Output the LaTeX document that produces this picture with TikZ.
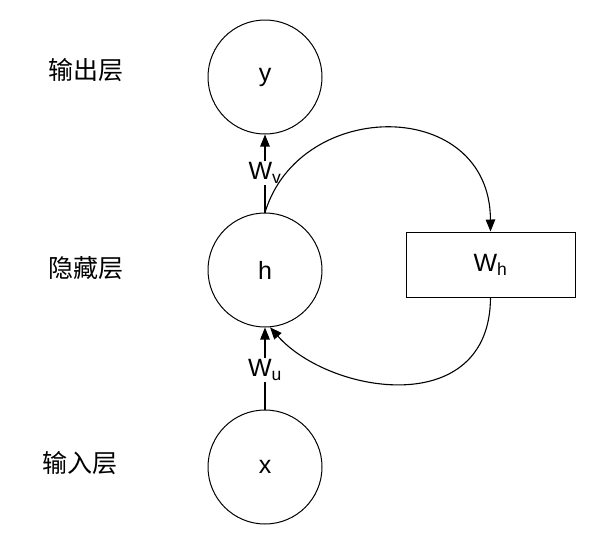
\documentclass[tikz,border=0pt]{standalone}
\usepackage{fontspec}
\setmainfont{Liberation Sans}
\newfontfamily\cjk{Noto Sans CJK SC}
\usetikzlibrary{arrows.meta}
\begin{document}
\begin{tikzpicture}[x=1pt,y=-1pt,
  neuron/.style={draw,circle,minimum size=114pt,inner sep=0pt,line width=1pt,font=\fontsize{25}{28}\selectfont},
  lbl/.style={font=\cjk\fontsize{25}{28}\selectfont},
  wl/.style={font=\fontsize{25}{28}\selectfont,inner sep=1pt},
  conn/.style={line width=1.1pt,-{Triangle[length=12pt,width=9.5pt]}},
  plain/.style={line width=1.1pt}]
\useasboundingbox (0,0) rectangle (605,544);
\node[neuron] (y) at (265,77) {y};
\node[neuron] (h) at (265,270) {h};
\node[neuron] (x) at (265,467) {x};
\node[draw,line width=1pt,minimum width=169pt,minimum height=65pt,inner sep=0pt,font=\fontsize{25}{28}\selectfont] (wh) at (490.5,264.5) {W\textsubscript{h}};
\node[lbl] (l1) at (86,70) {输出层};
\node[lbl] (l2) at (86,268) {隐藏层};
\node[lbl] (l3) at (80,463) {输入层};
\node[wl] (wv) at (265,173) {W\textsubscript{v}};
\node[wl] (wu) at (265,370) {W\textsubscript{u}};
\draw[plain] (h.north) -- (wv.south);
\draw[conn] (wv.north) -- (y.south);
\draw[plain] (x.north) -- (wu.south);
\draw[conn] (wu.north) -- (h.south);
\draw[conn] (h.north) .. controls (300,97) and (490,97) .. (wh.north);
\draw[conn] (wh.south) .. controls (490,420) and (330,395) .. (h.-85);
\end{tikzpicture}
\end{document}
